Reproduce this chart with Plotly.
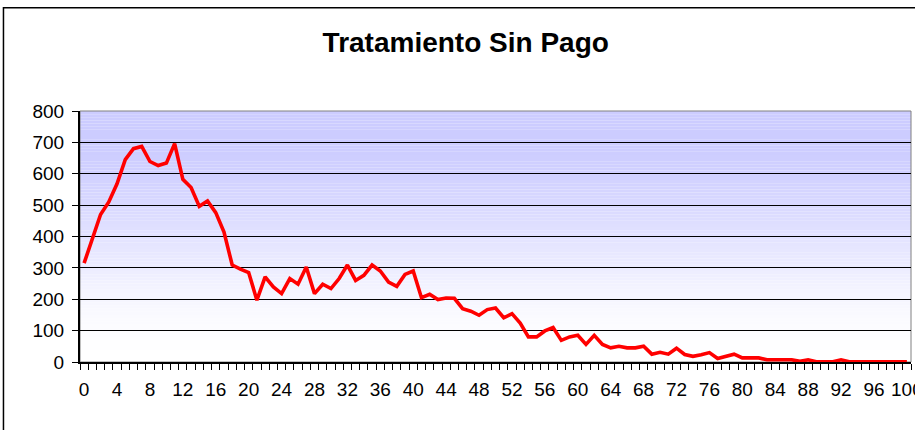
import plotly.graph_objects as go

# ---- data ----
categories = list(range(0, 101))
values = [315, 392, 470, 510, 568, 645, 680, 687, 639, 626,
          634, 696, 582, 556, 496, 513, 476, 414, 309, 296,
          285, 197, 271, 239, 218, 266, 248, 303, 218, 248,
          234, 266, 309, 260, 276, 309, 290, 255, 241, 279,
          290, 205, 216, 199, 204, 203, 170, 162, 149, 167,
          172, 141, 154, 124, 80, 80, 99, 110, 69, 80,
          85, 56, 85, 56, 45, 50, 45, 45, 50, 25,
          31, 25, 44, 24, 18, 23, 30, 11, 18, 25,
          13, 13, 13, 7, 7, 7, 7, 2, 7, 1,
          1, 1, 7, 1, 1, 1, 1, 1, 1, 1, 1]
x_tick_labels = [str(v) for v in range(0, 101, 4)]
y_ticks = list(range(0, 801, 100))
title_text = "Tratamiento Sin Pago"

FONT = "Liberation Sans, Arial, sans-serif"

fig = go.Figure()
fig.add_trace(go.Scatter(
    x=categories, y=values, mode="lines",
    line=dict(color="#FF0000", width=3.6),
    hoverinfo="x+y", showlegend=False,
))

# gradient background of the plot area (lavender top -> white bottom)
shapes = []
n = 80
top = (204, 204, 255)
for k in range(n):
    f = min(1.0, (k + 0.5) / n * 1.08)  # 0 bottom -> 1 top
    g_ = 3 * f * f - 2 * f ** 3
    r = round(255 + (top[0] - 255) * g_)
    g = round(255 + (top[1] - 255) * g_)
    shapes.append(dict(
        type="rect", xref="x domain", yref="y domain",
        x0=0, x1=1, y0=k / n, y1=(k + 1) / n,
        fillcolor=f"rgb({r},{g},255)", line=dict(width=0), layer="below",
    ))
# plot area border (gray)
shapes.append(dict(type="rect", xref="x domain", yref="y domain",
                   x0=0, x1=1, y0=0, y1=1,
                   line=dict(color="#808080", width=1), layer="below"))
# outer chart border (cropped at right/bottom)
shapes.append(dict(type="rect", xref="paper", yref="paper",
                   x0=-0.0921, x1=1.2, y0=-0.5, y1=1.411,
                   line=dict(color="#000000", width=1.5)))

fig.update_layout(
    width=915, height=430,
    margin=dict(l=80, r=4, t=111, b=68, autoexpand=False),
    paper_bgcolor="white", plot_bgcolor="rgba(0,0,0,0)",
    shapes=shapes,
    title=dict(text=f"<b>{title_text}</b>", x=0.509, xanchor="center",
               y=1 - 42 / 430, yanchor="middle",
               font=dict(family=FONT, size=28, color="black")),
    font=dict(family=FONT, size=19, color="black"),
)

fig.update_xaxes(
    range=[-0.5, 100.5], automargin=False,
    tickmode="array", tickvals=list(range(0, 101, 4)), ticktext=x_tick_labels,
    ticks="outside", ticklen=6, tickcolor="rgba(0,0,0,0)",
    ticklabelstandoff=3, ticklabeloverflow="allow",
    minor=dict(tickmode="linear", tick0=-0.5, dtick=1, ticks="outside",
               ticklen=6, tickcolor="black", tickwidth=1, showgrid=False),
    showgrid=False, zeroline=False,
    showline=True, linecolor="black", linewidth=2,
    tickfont=dict(family=FONT, size=19, color="black"),
)
fig.update_yaxes(
    range=[0, 800], automargin=False, tickmode="array", tickvals=y_ticks,
    ticks="outside", ticklen=6, tickcolor="black", tickwidth=1,
    ticklabelstandoff=4,
    showgrid=True, gridcolor="black", gridwidth=1, zeroline=False,
    showline=True, linecolor="black", linewidth=2,
    tickfont=dict(family=FONT, size=19, color="black"),
)

fig.write_html(
    "out.html",
    config={"displayModeBar": False},
    post_script="document.body.style.margin='0';document.body.style.overflow='hidden';",
)
